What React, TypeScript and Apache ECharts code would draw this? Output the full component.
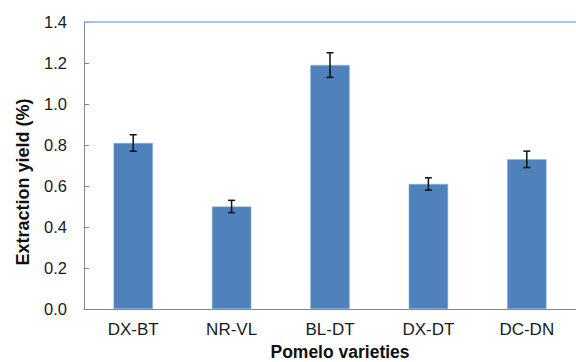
import React, { useEffect, useRef } from "react";
import * as echarts from "echarts";

const categories = ["DX-BT", "NR-VL", "BL-DT", "DX-DT", "DC-DN"];
const values = [0.81, 0.5, 1.19, 0.61, 0.73];
const errors = [0.04, 0.03, 0.06, 0.03, 0.04];
const xAxisTitle = "Pomelo varieties";
const yAxisTitle = "Extraction yield (%)";

export default function App() {
  const ref = useRef<HTMLDivElement>(null);
  useEffect(() => {
    const chart = echarts.init(ref.current!, null, { renderer: "svg" });
    const errData = categories.map((_, i) => [i, values[i] - errors[i], values[i] + errors[i]]);
    chart.setOption({
      animation: false,
      grid: { left: 84, right: -18, top: 22, bottom: 53, show: false },
      graphic: [
        {
          type: "text",
          x: 23,
          y: 182,
          rotation: Math.PI / 2,
          style: {
            text: yAxisTitle,
            font: "bold 18px 'Liberation Sans'",
            fill: "#111",
            align: "center",
            verticalAlign: "middle",
          },
        },
        {
          type: "text",
          x: 340,
          y: 352,
          style: {
            text: xAxisTitle,
            font: "bold 17.5px 'Liberation Sans'",
            fill: "#111",
            align: "center",
            verticalAlign: "middle",
          },
        },
      ],
      xAxis: {
        type: "category",
        data: categories,
        axisLine: { lineStyle: { color: "#868686", width: 1 } },
        axisTick: { inside: true, length: 5, lineStyle: { color: "#868686" } },
        axisLabel: { fontFamily: "Liberation Sans", fontSize: 17, color: "#1a1a1a", margin: 12 },
      },
      yAxis: {
        type: "value",
        min: 0,
        max: 1.4,
        interval: 0.2,
        axisLine: { show: true, lineStyle: { color: "#868686", width: 1 } },
        axisTick: { show: true, inside: true, length: 5, lineStyle: { color: "#868686" } },
        splitLine: { show: false },
        axisLabel: {
          fontFamily: "Liberation Sans",
          fontSize: 16.5,
          color: "#1a1a1a",
          margin: 17,
          formatter: (v: number) => v.toFixed(1),
        },
      },
      series: [
        {
          type: "bar",
          data: values,
          barWidth: "40%",
          itemStyle: { color: "#4F81BD", borderColor: "#8EB4E3", borderWidth: 0.5 },
          markLine: {
            silent: true,
            symbol: "none",
            label: { show: false },
            lineStyle: { color: "#8EB4E3", type: "solid", width: 1.5 },
            data: [{ yAxis: 1.4 }],
          },
        },
        {
          type: "custom",
          data: errData,
          z: 10,
          renderItem: (params: any, api: any) => {
            const x = api.coord([api.value(0), 0])[0];
            const lo = api.coord([api.value(0), api.value(1)])[1];
            const hi = api.coord([api.value(0), api.value(2)])[1];
            const w = 3.5;
            const style = { stroke: "#111", lineWidth: 1.5 };
            return {
              type: "group",
              children: [
                { type: "line", shape: { x1: x, y1: lo, x2: x, y2: hi }, style },
                { type: "line", shape: { x1: x - w, y1: lo, x2: x + w, y2: lo }, style },
                { type: "line", shape: { x1: x - w, y1: hi, x2: x + w, y2: hi }, style },
              ],
            };
          },
        },
      ],
    });
    return () => chart.dispose();
  }, []);
  return <div ref={ref} style={{ width: 576, height: 362, position: "fixed", left: 0, top: 0, background: "#fff" }} />;
}
